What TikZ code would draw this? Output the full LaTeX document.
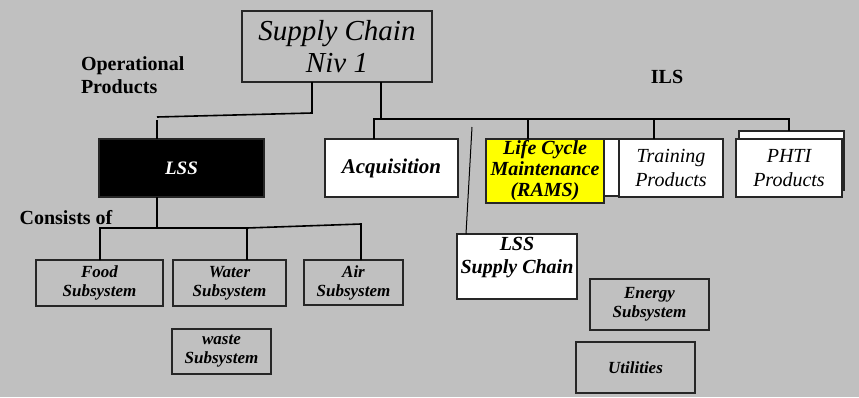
\documentclass[tikz,border=0pt]{standalone}
\usepackage{fontspec}
\setmainfont{Liberation Serif}
\begin{document}
\begin{tikzpicture}[x=1pt,y=-1pt,
  every node/.style={inner sep=0pt, outer sep=0pt, align=center},
  box/.style={draw=black!85, line width=1.4pt, minimum width=#1},
  whitebox/.style={box=#1, fill=white},
  wire/.style={draw=black, line width=1.6pt},
  big/.style={font=\fontsize{20}{23}\selectfont\bfseries},
  sub/.style={font=\fontsize{17}{19}\selectfont\bfseries\itshape},
  ital/.style={font=\fontsize{20}{24}\selectfont\itshape},
  bital/.style={font=\fontsize{20}{21}\selectfont\bfseries\itshape}]
\definecolor{bg}{RGB}{192,192,192}
\definecolor{lcmyellow}{RGB}{255,255,0}
\fill[bg] (0,0) rectangle (859,397);
\useasboundingbox (0,0) rectangle (859,397);

% top of the hierarchy
\node[box=190pt, minimum height=71pt, font=\fontsize{29}{32}\selectfont\itshape]
  (sc) at (337,46.5) {Supply Chain\\Niv 1};

% group headings
\node[big, align=left, anchor=west] (op) at (81,75) {Operational\\Products};
\node[big] (ils) at (667,77) {ILS};
\node[big] (cons) at (66,218) {Consists of};

% second level
\node[box=165pt, minimum height=58pt, fill=black, text=white,
      font=\fontsize{19}{22}\selectfont\bfseries\itshape] (lss) at (181.5,168) {LSS};
\node[whitebox=133pt, minimum height=58pt, font=\fontsize{21}{24}\selectfont\bfseries\itshape]
  (acq) at (391.5,168) {Acquisition};
\node[whitebox=129pt, minimum height=57pt] (lcmback) at (554.5,167.5) {};
\node[box=118pt, minimum height=64pt, fill=lcmyellow, bital]
  (lcm) at (545,171) {Life Cycle\\Maintenance\\(RAMS)};
\node[whitebox=104pt, minimum height=58pt, ital] (trn) at (671,168) {Training\\Products};
\node[whitebox=105pt, minimum height=59pt] (phtiback) at (791.5,160.5) {};
\node[whitebox=106pt, minimum height=58pt, ital] (phti) at (789,168) {PHTI\\Products};
\node[whitebox=120pt, minimum height=65pt, font=\fontsize{20}{23}\selectfont\bfseries\itshape]
  (lsc) at (517,266.5) {LSS\\Supply Chain\\\mbox{}};

% subsystems
\node[box=127pt, minimum height=46pt, sub] (food) at (99.5,283) {Food\\Subsystem};
\node[box=113pt, minimum height=46pt, sub] (water) at (229.5,283) {Water\\Subsystem};
\node[box=99pt, minimum height=45pt, sub] (air) at (353.5,282.5) {Air\\Subsystem};
\node[box=99pt, minimum height=45pt, sub] (waste) at (221.5,351.5) {waste\\Subsystem};
\node[box=119pt, minimum height=51pt, sub] (energy) at (649.5,304.5) {Energy\\Subsystem};
\node[box=119pt, minimum height=51pt, sub] (util) at (635.5,367.5) {Utilities};

% junction points of the tree
\coordinate (opj) at (157,117);
\coordinate (ilsj) at (381,119);
\coordinate (ilsl) at (374,119);
\coordinate (ilsr) at (789,119);
\coordinate (lssj) at (157,228);
\coordinate (subj) at (247,228);
\coordinate (airj) at (361,224);
\coordinate (slant) at (472,127);

% Supply Chain -> LSS
\draw[wire] ([xshift=-25pt]sc.south) -- ++(0,31) -- (opj);
\draw[wire] ([yshift=-3pt]opj) -- (lss.north -| opj);

% Supply Chain -> ILS branch
\draw[wire] ([xshift=44pt]sc.south) -- (ilsj);
\draw[wire] (acq.north -| ilsl) -- (ilsl) -- (ilsr) -- (phtiback.north -| ilsr);
\draw[wire] (528,119) -- (lcm.north -| 528,0);
\draw[wire] (654,119) -- (trn.north -| 654,0);

% loose link down to the LSS supply chain
\draw[wire, line width=1pt] (slant) -- ([xshift=-51pt]lsc.north);

% LSS -> subsystems
\draw[wire] (lss.south -| opj) -- (lssj);
\draw[wire] (food.north -| 100,0) |- (subj) -- (airj) -- (air.north -| airj);
\draw[wire] (subj) -- (water.north -| subj);
\end{tikzpicture}
\end{document}
